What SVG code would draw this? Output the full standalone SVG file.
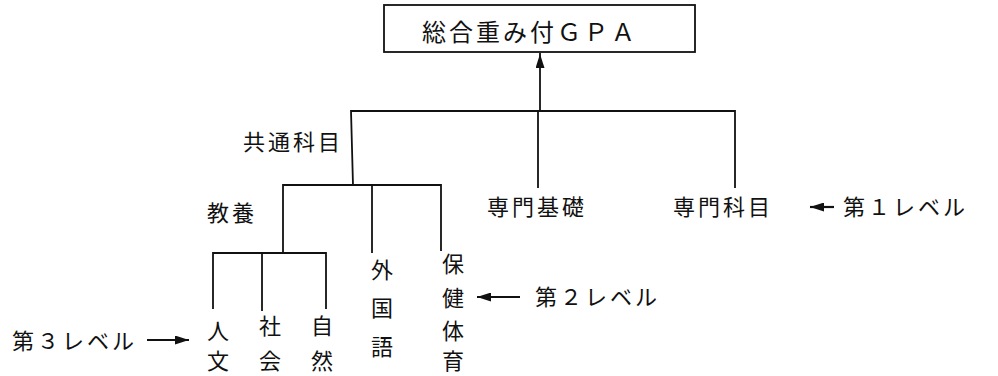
<svg xmlns="http://www.w3.org/2000/svg" width="998" height="376" viewBox="0 0 998 376">
<style>
  text { font-family: "Noto Sans CJK JP", "Noto Sans", sans-serif; fill: #111; font-size: 22px; }
  .h { letter-spacing: 3px; }
  .v { text-anchor: middle; }
  .ln { stroke: #111; stroke-width: 1.8; fill: none; stroke-linecap: square; }
  .ar { stroke: #111; stroke-width: 2.2; fill: none; }
  .box { fill: #fff; stroke: #111; stroke-width: 1.8; }
</style>
<defs>
  <marker id="ah" viewBox="0 0 14 9" markerWidth="14" markerHeight="9" refX="14" refY="4.5" orient="auto" markerUnits="userSpaceOnUse">
    <path d="M0,0 L14,4.5 L0,9 z" fill="#111"/>
  </marker>
</defs>
<rect width="998" height="376" fill="#fff"/>

<g id="connectors">
  <line class="ln" x1="540" y1="111" x2="540" y2="54" marker-end="url(#ah)"/>
  <polyline class="ln" points="353,185 351,111 735,111 735,187"/>
  <line class="ln" x1="538" y1="111" x2="538" y2="187"/>
  <polyline class="ln" points="283,253 283,185 441,185 441,250"/>
  <line class="ln" x1="372" y1="185" x2="372" y2="252"/>
  <polyline class="ln" points="213,308 213,253 326,253 326,308"/>
  <line class="ln" x1="262" y1="253" x2="262" y2="310"/>
  <line class="ar" x1="147" y1="340" x2="189" y2="340" marker-end="url(#ah)"/>
  <line class="ar" x1="520" y1="297" x2="477" y2="297" marker-end="url(#ah)"/>
  <line class="ar" x1="834" y1="207" x2="810" y2="207" marker-end="url(#ah)"/>
</g>

<g id="gpa">
  <rect class="box" x="384" y="5" width="311" height="47"/>
  <text x="422" y="41" style="font-size:24px;letter-spacing:3px">総合重み付ＧＰＡ</text>
</g>
<g id="kyotsu"><text class="h" x="243" y="150">共通科目</text></g>
<g id="senmon-kiso"><text class="h" x="487" y="215">専門基礎</text></g>
<g id="senmon-kamoku"><text class="h" x="673" y="215">専門科目</text></g>
<g id="kyoyo"><text class="h" x="207" y="221">教養</text></g>
<g id="jinbun">
  <text class="v" x="218" y="339">人</text>
  <text class="v" x="218" y="369">文</text>
</g>
<g id="shakai">
  <text class="v" x="270" y="334">社</text>
  <text class="v" x="270" y="369">会</text>
</g>
<g id="shizen">
  <text class="v" x="322" y="334">自</text>
  <text class="v" x="322" y="369">然</text>
</g>
<g id="gaikokugo">
  <text class="v" x="382" y="278">外</text>
  <text class="v" x="382" y="316">国</text>
  <text class="v" x="382" y="355">語</text>
</g>
<g id="hoken">
  <text class="v" x="453" y="272">保</text>
  <text class="v" x="453" y="306">健</text>
  <text class="v" x="453" y="339">体</text>
  <text class="v" x="453" y="369">育</text>
</g>
<g id="level1"><text class="h" x="843" y="215">第１レベル</text></g>
<g id="level2"><text class="h" x="535" y="305">第２レベル</text></g>
<g id="level3"><text class="h" x="12" y="349">第３レベル</text></g>
</svg>
